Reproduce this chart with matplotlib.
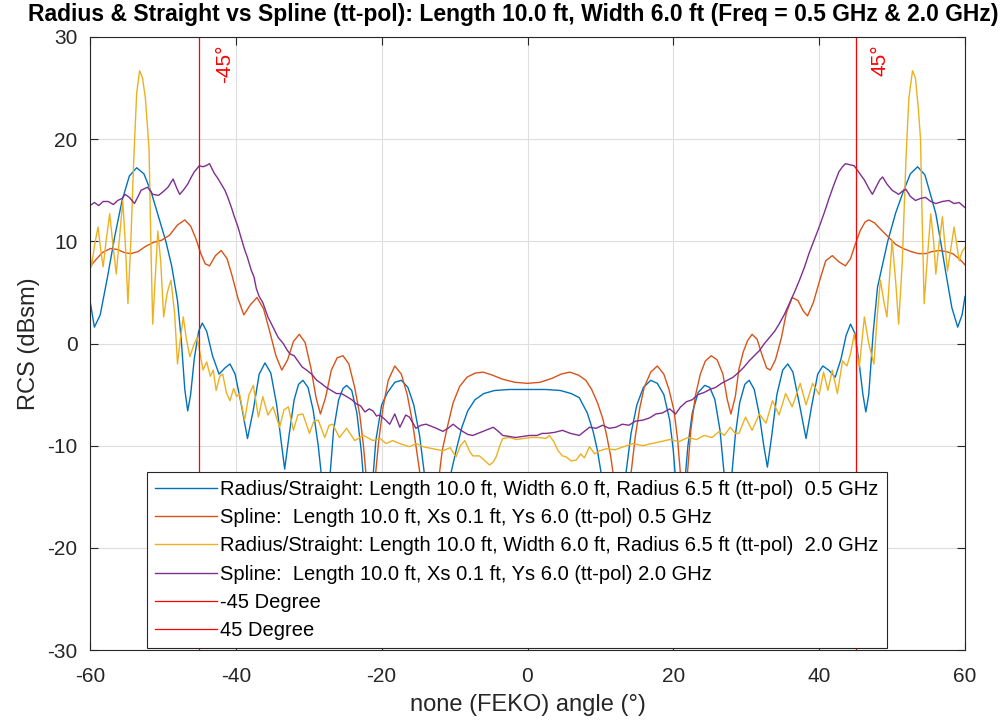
import matplotlib
matplotlib.use('Agg')
import matplotlib.pyplot as plt

plt.rcParams['font.family'] = ['Liberation Sans', 'DejaVu Sans']
plt.rcParams['axes.unicode_minus'] = False

# RCS cuts: (angle deg, RCS dBsm)
radius_05 = [(-60.0, 4.2), (-59.4, 1.6), (-58.6, 2.8), (-57.6, 6.5), (-56.6, 10.5), (-55.6, 14.0), (-54.6, 16.4),
             (-53.6, 17.2), (-52.6, 16.6), (-51.6, 14.8), (-50.6, 12.4), (-49.6, 10.0), (-48.8, 7.6), (-48.0, 4.2),
             (-47.5, 0.5), (-47.0, -4.5), (-46.6, -6.6), (-46.2, -5.0), (-45.7, -1.5), (-45.1, 1.2), (-44.6, 2.0),
             (-44.0, 1.2), (-43.2, -1.2), (-42.3, -3.0), (-41.5, -2.4), (-40.8, -2.0), (-40.1, -3.0), (-39.3, -5.8),
             (-38.4, -9.3), (-37.6, -6.5), (-36.8, -3.0), (-36.0, -1.9), (-35.2, -2.9), (-34.4, -6.0), (-33.8, -9.5),
             (-33.3, -12.3), (-32.7, -9.0), (-32.0, -5.5), (-31.4, -4.0), (-30.8, -3.6), (-30.1, -4.3), (-29.4, -6.5),
             (-28.7, -10.0), (-28.1, -14.0), (-27.7, -18.0), (-27.2, -14.0), (-26.6, -8.5), (-25.9, -5.5),
             (-25.3, -4.4), (-24.8, -4.1), (-24.1, -4.6), (-23.4, -6.8), (-22.8, -10.5), (-22.3, -15.0),
             (-21.9, -20.0), (-21.4, -15.0), (-20.8, -9.5), (-20.0, -6.0), (-19.2, -4.8), (-18.2, -3.8),
             (-17.3, -3.6), (-16.4, -4.3), (-15.6, -6.0), (-14.8, -9.0), (-14.1, -13.0), (-13.4, -20.0),
             (-12.0, -20.0), (-11.2, -15.0), (-10.5, -12.7), (-9.8, -10.5), (-9.0, -8.2), (-8.2, -6.6), (-7.2, -5.5),
             (-6.0, -4.9), (-4.5, -4.6), (-2.5, -4.5), (0.0, -4.5), (2.5, -4.5), (4.5, -4.6), (6.0, -4.9),
             (7.1, -5.3), (8.2, -6.8), (9.0, -8.6), (9.6, -10.5), (10.1, -12.7), (10.8, -16.0), (11.5, -20.0),
             (12.8, -20.0), (13.5, -12.7), (14.2, -8.8), (15.0, -6.0), (15.9, -4.3), (16.9, -3.6), (17.8, -3.9),
             (18.7, -5.0), (19.5, -7.5), (20.0, -10.5), (20.5, -15.0), (20.9, -20.0), (21.4, -15.0), (22.0, -10.0),
             (22.6, -6.8), (23.4, -4.8), (24.3, -4.1), (25.0, -4.3), (25.7, -5.5), (26.4, -8.5), (27.0, -13.0),
             (27.5, -18.0), (28.0, -13.0), (28.5, -9.0), (29.1, -5.8), (29.8, -4.0), (30.4, -3.6), (31.1, -4.5),
             (31.8, -7.0), (32.4, -10.0), (32.9, -12.1), (33.5, -9.0), (34.2, -5.0), (35.0, -2.6), (35.7, -2.0),
             (36.4, -2.8), (37.2, -5.6), (38.2, -9.3), (39.0, -6.0), (39.8, -3.0), (40.5, -2.2), (41.3, -2.6),
             (42.2, -3.3), (43.0, -1.5), (43.7, 0.8), (44.3, 1.9), (44.9, 1.0), (45.5, -2.0), (46.0, -5.0),
             (46.4, -6.7), (46.8, -5.0), (47.4, 1.0), (48.0, 5.5), (49.4, 10.0), (50.5, 12.8), (51.5, 14.8),
             (52.5, 16.6), (53.5, 17.3), (54.5, 16.5), (55.3, 14.5), (56.0, 12.7), (56.7, 9.8), (57.4, 6.8),
             (58.2, 3.5), (59.0, 1.6), (59.6, 2.8), (60.0, 4.6)]

spline_05 = [(-60.0, 7.5), (-59.2, 8.2), (-58.3, 8.9), (-57.2, 9.3), (-56.2, 9.2), (-55.3, 8.9), (-54.4, 8.8),
             (-53.4, 9.0), (-52.4, 9.5), (-51.3, 9.9), (-50.2, 10.1), (-49.1, 10.6), (-48.0, 11.6), (-47.0, 12.1),
             (-46.2, 11.5), (-45.5, 10.3), (-44.8, 8.8), (-44.2, 7.8), (-43.6, 7.6), (-42.8, 8.6), (-42.0, 9.1),
             (-41.2, 8.3), (-40.5, 6.6), (-39.7, 4.4), (-38.9, 2.8), (-38.0, 3.8), (-37.1, 4.5), (-36.2, 3.4),
             (-35.4, 1.3), (-34.5, -1.2), (-33.7, -2.6), (-32.9, -1.6), (-32.1, 0.2), (-31.3, 0.9), (-30.5, 0.1),
             (-29.7, -2.4), (-29.0, -5.3), (-28.4, -6.9), (-27.7, -5.3), (-26.9, -2.6), (-26.1, -1.4), (-25.3, -1.2),
             (-24.5, -2.0), (-23.7, -4.3), (-23.0, -7.0), (-22.5, -10.0), (-22.0, -14.0), (-21.5, -20.0),
             (-21.0, -14.0), (-20.4, -9.5), (-19.8, -6.2), (-19.1, -3.6), (-18.2, -2.2), (-17.3, -3.0),
             (-16.5, -5.0), (-15.8, -7.6), (-15.2, -10.5), (-14.6, -13.5), (-14.0, -20.0), (-12.9, -20.0),
             (-12.3, -14.0), (-11.7, -10.5), (-11.0, -8.2), (-10.2, -5.8), (-9.3, -4.2), (-8.3, -3.3), (-7.2, -2.9),
             (-6.1, -2.8), (-4.8, -3.1), (-3.4, -3.5), (-1.7, -3.8), (0.0, -3.9), (1.7, -3.8), (3.4, -3.4),
             (4.6, -3.0), (5.8, -2.8), (7.0, -3.1), (8.0, -3.6), (8.8, -4.5), (9.6, -5.8), (10.3, -7.3),
             (10.8, -8.8), (11.4, -11.0), (11.9, -13.5), (12.5, -20.0), (13.6, -20.0), (14.2, -12.7), (14.8, -9.0),
             (15.4, -6.3), (16.0, -4.3), (16.9, -2.8), (17.8, -2.2), (18.7, -3.0), (19.4, -4.5), (20.1, -6.6),
             (20.6, -9.5), (21.0, -13.0), (21.4, -20.0), (21.9, -13.0), (22.4, -8.5), (23.0, -5.2), (23.7, -3.0),
             (24.4, -1.7), (25.2, -1.2), (26.0, -1.6), (26.8, -3.0), (27.4, -5.5), (27.9, -6.9), (28.5, -5.2),
             (29.0, -2.5), (29.6, -0.8), (30.2, 0.3), (30.8, 0.9), (31.5, 0.4), (32.2, -1.2), (32.8, -2.4),
             (33.3, -2.6), (34.0, -1.6), (34.8, 0.5), (35.5, 3.0), (36.3, 4.5), (37.1, 4.2), (37.8, 3.2),
             (38.4, 2.7), (39.2, 4.0), (40.0, 6.0), (40.9, 8.1), (41.8, 8.6), (42.7, 8.0), (43.6, 7.6), (44.3, 8.3),
             (44.8, 9.4), (45.6, 11.0), (46.3, 11.9), (46.8, 12.1), (47.6, 11.8), (48.4, 11.2), (49.1, 10.7),
             (50.5, 9.7), (51.5, 9.3), (52.6, 9.0), (53.6, 8.8), (54.6, 8.8), (55.5, 9.0), (56.4, 9.1), (57.4, 9.0),
             (58.3, 8.8), (59.2, 8.3), (60.0, 7.7)]

radius_20 = [(-60.0, 9.0), (-59.8, 7.5), (-59.4, 9.5), (-58.9, 11.4), (-58.5, 9.0), (-58.2, 7.5), (-57.8, 10.0),
             (-57.3, 12.7), (-56.9, 10.0), (-56.4, 6.8), (-56.0, 10.0), (-55.5, 14.0), (-55.1, 9.0), (-54.8, 3.9),
             (-54.4, 10.0), (-54.0, 18.0), (-53.6, 24.5), (-53.2, 26.7), (-52.8, 26.0), (-52.4, 24.0), (-51.9, 19.0),
             (-51.6, 8.0), (-51.4, 1.9), (-51.0, 7.0), (-50.7, 11.0), (-50.3, 8.0), (-49.9, 2.6), (-49.4, 5.0),
             (-48.9, 6.2), (-48.4, 3.0), (-48.0, -2.0), (-47.6, 0.5), (-47.2, 2.6), (-46.8, 0.5), (-46.3, -1.3),
             (-45.8, -0.2), (-45.3, 0.6), (-44.9, -1.0), (-44.5, -2.6), (-44.0, -1.8), (-43.5, -3.2), (-43.1, -2.6),
             (-42.7, -4.6), (-42.2, -3.2), (-41.8, -3.0), (-41.3, -4.8), (-40.8, -5.6), (-40.3, -4.4), (-39.9, -5.2),
             (-39.5, -4.9), (-38.8, -7.5), (-38.2, -5.0), (-37.6, -4.1), (-36.9, -7.2), (-36.3, -5.2), (-35.6, -7.0),
             (-34.9, -6.2), (-34.0, -8.2), (-33.4, -6.5), (-32.8, -6.2), (-32.1, -8.5), (-31.5, -7.0), (-30.8, -6.9),
             (-29.9, -8.8), (-29.3, -7.6), (-28.7, -7.5), (-27.8, -9.2), (-27.2, -8.0), (-26.7, -7.9), (-25.8, -9.2),
             (-24.8, -8.3), (-23.7, -9.5), (-22.5, -9.0), (-21.2, -9.5), (-20.2, -9.3), (-19.4, -9.8), (-18.5, -9.5),
             (-17.5, -9.8), (-16.2, -10.1), (-15.2, -9.8), (-14.3, -10.1), (-13.0, -10.3), (-11.6, -10.5),
             (-10.6, -10.2), (-9.8, -11.1), (-9.2, -10.0), (-8.6, -9.5), (-7.9, -10.6), (-7.5, -11.0), (-6.6, -11.0),
             (-6.1, -11.3), (-5.2, -11.9), (-4.7, -11.6), (-4.3, -11.1), (-3.8, -10.0), (-3.4, -9.3), (-2.5, -9.2),
             (-1.5, -9.4), (-0.6, -9.3), (0.5, -9.2), (1.6, -9.2), (2.5, -9.3), (3.0, -9.0), (3.6, -9.6),
             (4.2, -10.5), (4.8, -11.0), (5.3, -11.1), (6.0, -11.5), (6.7, -11.4), (7.3, -10.8), (7.8, -11.2),
             (8.5, -10.1), (9.2, -10.8), (9.9, -10.5), (10.8, -10.3), (12.0, -10.4), (13.2, -10.1), (14.5, -9.8),
             (15.8, -10.0), (17.0, -9.8), (18.3, -9.6), (19.5, -9.4), (20.8, -9.6), (22.0, -9.2), (23.2, -9.4),
             (24.2, -9.0), (25.3, -9.2), (26.3, -8.6), (27.0, -9.0), (27.8, -8.2), (28.5, -8.8), (29.0, -8.8),
             (29.9, -7.2), (30.8, -8.5), (31.8, -6.9), (32.7, -7.8), (33.6, -5.6), (34.5, -7.0), (35.4, -4.9),
             (36.3, -6.2), (37.4, -3.9), (38.2, -6.0), (39.1, -3.9), (40.0, -5.0), (40.6, -2.8), (41.2, -4.6),
             (41.8, -2.6), (42.5, -4.9), (43.2, -1.7), (43.8, -2.2), (44.3, -1.0), (44.8, 0.9), (45.5, -2.3),
             (46.2, 2.6), (46.8, 0.0), (47.5, -2.0), (48.0, 3.0), (48.4, 6.2), (48.9, 4.0), (49.3, 2.6), (49.7, 7.0),
             (50.0, 10.1), (50.5, 6.0), (50.9, 1.9), (51.4, 8.0), (51.9, 18.0), (52.3, 24.0), (52.8, 26.7),
             (53.2, 26.0), (53.6, 23.0), (53.9, 20.0), (54.1, 13.0), (54.4, 3.9), (54.8, 8.0), (55.3, 12.7),
             (55.7, 10.0), (56.0, 6.8), (56.4, 9.5), (56.9, 12.4), (57.2, 10.0), (57.6, 7.1), (58.0, 9.0),
             (58.5, 11.4), (58.8, 10.0), (59.2, 8.1), (59.6, 9.0), (60.0, 9.4)]

spline_20 = [(-60.0, 13.5), (-59.4, 13.8), (-58.8, 13.5), (-58.2, 13.9), (-57.5, 13.9), (-56.8, 13.6), (-56.2, 14.0),
             (-55.6, 14.2), (-55.2, 14.6), (-54.6, 14.3), (-53.9, 13.7), (-53.4, 14.4), (-53.0, 15.0), (-52.1, 15.3),
             (-51.4, 14.6), (-50.6, 14.5), (-49.9, 14.9), (-49.3, 15.3), (-48.6, 16.1), (-48.1, 15.2), (-47.7, 14.6),
             (-47.2, 15.0), (-46.6, 15.6), (-46.1, 16.3), (-45.7, 16.8), (-45.0, 17.4), (-44.5, 17.3), (-44.1, 17.4),
             (-43.6, 17.6), (-43.2, 17.0), (-42.9, 16.6), (-42.5, 16.2), (-42.0, 15.6), (-41.5, 15.0), (-41.1, 14.3),
             (-40.6, 13.3), (-40.2, 12.4), (-39.7, 11.4), (-39.3, 10.4), (-38.8, 9.2), (-38.4, 8.4), (-37.9, 7.2),
             (-37.5, 6.5), (-37.2, 5.4), (-36.8, 4.6), (-36.3, 4.0), (-35.6, 2.6), (-34.9, 1.6), (-34.2, 0.6),
             (-33.5, 0.0), (-33.0, -0.6), (-32.6, -1.0), (-32.0, -1.2), (-31.5, -1.7), (-30.9, -2.3), (-30.3, -2.6),
             (-29.6, -3.0), (-28.9, -3.6), (-28.3, -3.9), (-27.6, -4.3), (-26.9, -4.6), (-26.2, -4.9), (-25.5, -4.9),
             (-24.8, -5.2), (-24.1, -5.5), (-23.5, -5.9), (-22.9, -6.1), (-22.3, -6.7), (-21.7, -6.4), (-21.2, -6.6),
             (-20.7, -7.1), (-20.3, -7.0), (-19.6, -7.4), (-18.9, -7.9), (-18.2, -6.9), (-17.5, -8.2), (-16.7, -7.0),
             (-16.2, -7.2), (-15.3, -8.3), (-14.6, -8.0), (-13.9, -7.9), (-13.2, -8.1), (-12.5, -8.3), (-11.6, -8.6),
             (-10.9, -8.3), (-10.2, -7.9), (-9.5, -8.3), (-8.9, -8.6), (-8.2, -8.9), (-7.5, -9.0), (-6.8, -8.8),
             (-6.1, -8.6), (-5.4, -8.4), (-4.7, -8.2), (-4.0, -8.6), (-3.4, -9.0), (-2.5, -9.1), (-1.6, -9.2),
             (-0.7, -9.1), (0.3, -9.0), (1.3, -9.0), (2.0, -8.8), (2.6, -8.8), (3.7, -8.7), (4.8, -8.5), (5.9, -8.8),
             (6.5, -8.9), (7.1, -9.0), (7.8, -8.6), (8.5, -8.2), (9.4, -8.3), (10.3, -8.0), (11.2, -8.3), (12.1, -8.2),
             (13.0, -7.9), (13.9, -8.0), (14.8, -7.6), (15.8, -7.5), (16.7, -7.3), (17.6, -6.9), (18.5, -6.8),
             (19.5, -6.4), (20.3, -6.9), (21.0, -6.2), (21.8, -5.7), (22.6, -5.5), (23.4, -5.0), (24.2, -4.8),
             (25.0, -4.5), (25.8, -4.3), (26.6, -3.9), (27.4, -3.6), (28.2, -3.3), (29.0, -2.8), (29.7, -2.3),
             (30.4, -1.7), (31.1, -1.2), (31.8, -0.7), (32.5, 0.0), (33.2, 0.6), (33.9, 1.2), (34.5, 1.9), (35.2, 2.8),
             (35.9, 3.9), (36.6, 5.0), (37.3, 6.2), (38.0, 7.5), (38.6, 8.8), (39.3, 10.1), (40.0, 11.4), (40.7, 12.8),
             (41.4, 14.3), (42.0, 15.5), (42.7, 16.8), (43.2, 17.3), (43.6, 17.6), (44.2, 17.5), (44.8, 17.4),
             (45.5, 16.7), (46.2, 16.0), (46.8, 15.2), (47.3, 14.6), (47.8, 15.3), (48.3, 16.0), (48.7, 16.3),
             (49.3, 15.6), (50.0, 15.0), (50.9, 14.6), (51.4, 14.9), (51.9, 15.1), (52.5, 14.4), (53.2, 14.0),
             (53.9, 14.2), (54.6, 14.3), (55.3, 13.9), (56.0, 13.7), (56.9, 13.9), (57.8, 14.0), (58.5, 13.7),
             (59.2, 13.8), (60.0, 13.3)]

series_labels = ['Radius/Straight: Length 10.0 ft, Width 6.0 ft, Radius 6.5 ft (tt-pol)  0.5 GHz',
                 'Spline:  Length 10.0 ft, Xs 0.1 ft, Ys 6.0 (tt-pol) 0.5 GHz',
                 'Radius/Straight: Length 10.0 ft, Width 6.0 ft, Radius 6.5 ft (tt-pol)  2.0 GHz',
                 'Spline:  Length 10.0 ft, Xs 0.1 ft, Ys 6.0 (tt-pol) 2.0 GHz']
series_colors = ['#0072BD', '#D95319', '#EDB120', '#7E2F8E']

# marker lines at +-45 deg
cut_angles = [-45, 45]
cut_labels = ['-45 Degree', '45 Degree']
cut_texts = ['-45°', '45°']

x_ticks = [-60, -40, -20, 0, 20, 40, 60]
y_ticks = [-30, -20, -10, 0, 10, 20, 30]

title = 'Radius & Straight vs Spline (tt-pol): Length 10.0 ft, Width 6.0 ft (Freq = 0.5 GHz & 2.0 GHz)'

fig = plt.figure(figsize=(10.06, 7.23), dpi=100)
ax = fig.add_axes([90 / 1006, 1 - 650 / 723, 875 / 1006, 613 / 723])

for data, lab, col in zip([radius_05, spline_05, radius_20, spline_20], series_labels, series_colors):
    a, v = zip(*data)
    ax.plot(a, v, color=col, lw=1.0, label=lab)

for a, lab, txt in zip(cut_angles, cut_labels, cut_texts):
    ax.plot([a, a], [y_ticks[0], y_ticks[-1]], color='#FF0000', lw=0.9, label=lab)
    ax.text(a + 3.4, 29.3, txt, rotation=90, color='#FF0000', fontsize=15, ha='center', va='top')

ax.set_xlim(-60, 60)
ax.set_ylim(-30, 30)
ax.set_xticks(x_ticks)
ax.set_yticks(y_ticks)
ax.grid(True, color='#dedede', lw=0.8)
ax.set_axisbelow(True)
ax.tick_params(direction='in', top=True, right=True, length=6, width=0.8, labelsize=15, colors='#262626')
ax.tick_params(axis='x', pad=12)
ax.tick_params(axis='y', pad=9)
for s in ax.spines.values():
    s.set_color('#262626')
    s.set_linewidth(0.8)

ax.set_xlabel('none (FEKO) angle (°)', fontsize=17, color='#262626', labelpad=6)
ax.set_ylabel('RCS (dBsm)', fontsize=17, color='#262626', labelpad=5)
fig.text(513 / 1006, 1 - 14 / 723, title, fontsize=16.5, fontweight='bold', ha='center', va='center')

leg = ax.legend(loc='lower left', bbox_to_anchor=(0.065, 0.003), fontsize=14.5, handlelength=3.1,
                handletextpad=0.15, labelspacing=0.46, borderpad=0.4, borderaxespad=0,
                fancybox=False, framealpha=1, edgecolor='#262626')
leg.get_frame().set_linewidth(0.8)

fig.savefig('out.png', dpi=100)
